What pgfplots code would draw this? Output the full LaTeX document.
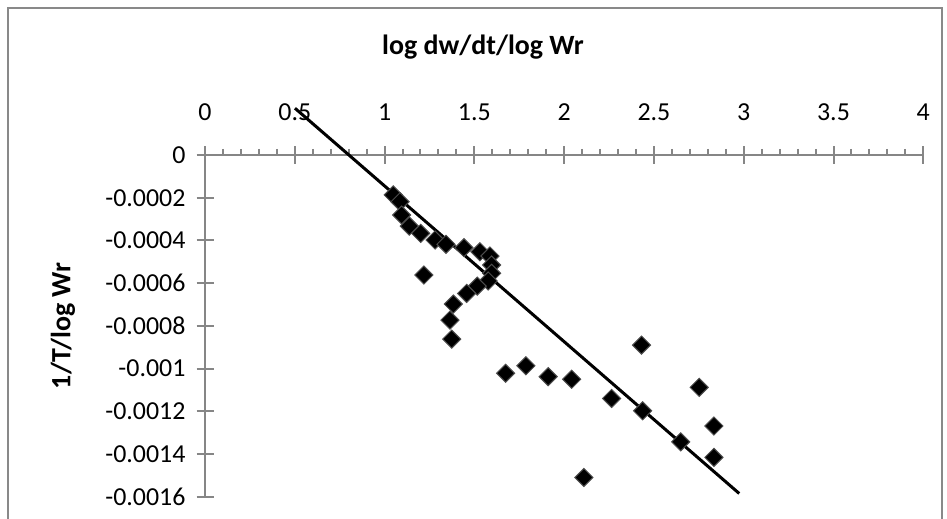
\documentclass[border=0pt]{standalone}
\usepackage{fontspec}
\setmainfont{Carlito}
\usepackage{pgfplots}
\pgfplotsset{compat=1.18}
\definecolor{AxGray}{HTML}{868686}
\definecolor{FrameGray}{HTML}{898989}
\begin{document}
\begin{tikzpicture}
\useasboundingbox (0,0) rectangle (473.5bp,259.5bp);
% chart area frame (bottom edge lies below the picture)
\draw[FrameGray,line width=1.2bp] (4bp,-10bp) -- (4bp,255.5bp) -- (471bp,255.5bp) -- (471bp,-10bp);
% chart title and y title
\node[anchor=base,font=\fontsize{14}{16}\selectfont\bfseries] at (241.5bp,232bp) {log dw/dt/log Wr};
\node[rotate=90,font=\fontsize{14}{16}\selectfont\bfseries] at (31.5bp,96.5bp) {1/T/log Wr};
\begin{axis}[
  scale only axis,
  width=359.15bp, height=170.85bp,
  at={(102.5bp,11.15bp)}, anchor=south west,
  xmin=0, xmax=4, ymin=-0.0016, ymax=0,
  axis x line=top, axis y line=left,
  axis line style={AxGray,line width=1bp,-},
  xtick={0,0.5,1,1.5,2,2.5,3,3.5,4},
  xticklabels={0,0.5,1,1.5,2,2.5,3,3.5,4},
  minor x tick num=4,
  ytick={-0.0016,-0.0014,-0.0012,-0.001,-0.0008,-0.0006,-0.0004,-0.0002,0},
  yticklabels={-0.0016,-0.0014,-0.0012,-0.001,-0.0008,-0.0006,-0.0004,-0.0002,0},
  scaled y ticks=false, scaled x ticks=false,
  tick style={AxGray,line width=1bp},
  major tick length=8.5bp, minor tick length=3bp,
  xtick align=center, ytick align=center,
  minor x tick style={yshift=1.5bp},
  tick label style={font=\fontsize{13}{15}\selectfont,text=black},
  xticklabel style={yshift=9.5bp},
  yticklabel style={xshift=-2bp},
  clip=false,
]
\addplot[only marks,mark=square*,mark size=3.2bp,
  mark options={rotate=45,fill=black,draw=black!70,line width=0.5bp}] coordinates {
(1.048,-0.000187) (1.086,-0.000219) (1.095,-0.000281) (1.138,-0.000333)
(1.201,-0.000367) (1.281,-0.000398) (1.342,-0.000418) (1.442,-0.000434)
(1.531,-0.000453) (1.587,-0.000473) (1.596,-0.000515) (1.596,-0.000554)
(1.577,-0.000590) (1.516,-0.000614) (1.457,-0.000648) (1.383,-0.000698)
(1.364,-0.000773) (1.374,-0.000862) (1.219,-0.000562) (1.674,-0.001022)
(1.787,-0.000987) (1.911,-0.001038) (2.042,-0.001050) (2.264,-0.001140)
(2.431,-0.000890) (2.437,-0.001198) (2.752,-0.001088) (2.649,-0.001343)
(2.834,-0.001269) (2.834,-0.001416) (2.110,-0.001510)};
% linear trendline
\addplot[black,line width=1.5bp] coordinates {(0.501,0.000219) (2.975,-0.001585)};
\end{axis}
\end{tikzpicture}
\end{document}
